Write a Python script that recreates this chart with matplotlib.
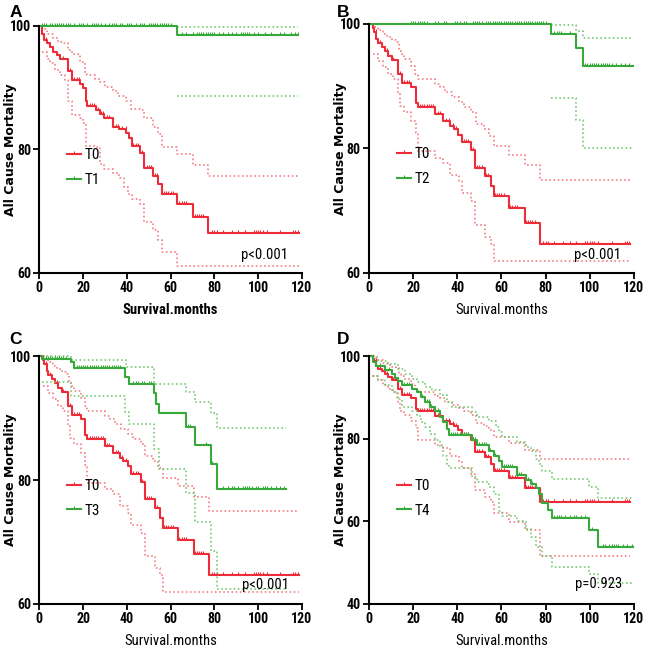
import matplotlib
matplotlib.use("Agg")
import matplotlib.pyplot as plt
import numpy as np
from matplotlib import font_manager
from matplotlib.lines import Line2D
from matplotlib.path import Path

RED = '#ee2c38'
RED_CI = '#f2767d'
GREEN = '#36a93a'
GREEN_CI = '#6cc669'

# ---- reference group T0 (panel A)
T0A_T = [0, 1.0, 2.3, 3.6, 4.9, 6.4, 7.9, 9.4, 12.9, 14.8, 18.6, 20.1, 21.3, 21.9, 25.7,
         27.7, 29.7, 33.8, 36.3, 39.8, 41.1, 42.3, 45.9, 47.8, 52.0, 54.3, 56.1, 63.0, 70.0, 77.1]
T0A_V = [100, 98.7, 97.7, 97.2, 96.5, 95.8, 95.3, 94.7, 92.7, 91.2, 90.6, 89.9, 87.9, 87.0, 86.4,
         85.8, 85.1, 83.7, 83.3, 82.6, 81.8, 80.6, 79.4, 77.0, 75.7, 74.4, 72.8, 71.1, 69.0, 66.4]
T0A_HI_T = [0, 1.1, 3.3, 6.4, 8.7, 11.0, 13.2, 14.8, 18.6, 20.8, 21.9, 25.4, 27.7, 30.0, 33.8,
            36.0, 39.8, 42.1, 45.9, 47.9, 52.0, 54.3, 56.1, 63.0, 70.0, 77.1]
T0A_HI_V = [100, 99.5, 98.7, 98.0, 97.4, 97.2, 96.0, 95.5, 94.1, 92.5, 92.0, 91.4, 90.9, 90.1, 89.4,
            88.7, 87.9, 86.6, 86.3, 85.0, 83.6, 82.5, 80.4, 79.2, 77.5, 75.7]
T0A_LO_T = [1.1, 3.3, 4.9, 7.1, 9.4, 11.7, 12.9, 14.8, 18.6, 20.1, 21.3, 25.7, 27.7, 29.7, 33.8,
            36.3, 38.6, 40.6, 42.3, 45.9, 47.8, 52.0, 54.3, 56.1, 63.0]
T0A_LO_V = [95.7, 94.7, 93.9, 92.8, 92.0, 91.2, 87.9, 85.5, 85.0, 84.2, 80.6, 80.4, 77.7, 76.9, 76.1,
            75.3, 73.9, 72.8, 72.0, 71.2, 68.2, 66.9, 65.3, 63.4, 61.1]
T0A_END = 118.5

# ---- reference group T0 (panels B, C, D)
T0_T = [0, 1.6, 2.3, 3.3, 4.1, 5.9, 7.1, 8.7, 10.2, 12.9, 15.0, 19.0, 21.1, 22.0, 29.9, 33.7,
        36.8, 38.3, 40.3, 42.1, 46.4, 48.2, 52.7, 55.3, 56.5, 63.4, 70.7, 77.5]
T0_V = [100, 99.3, 98.7, 97.6, 96.9, 96.3, 95.6, 94.9, 94.2, 92.0, 90.5, 89.8, 87.3, 86.6, 85.5, 84.4,
        83.6, 83.1, 82.2, 81.0, 79.7, 76.9, 75.5, 73.9, 72.3, 70.4, 68.0, 64.7]
T0_HI_T = [0, 1.5, 2.6, 4.1, 6.4, 7.9, 10.2, 12.0, 13.5, 14.4, 16.0, 19.0, 20.8, 22.0, 29.9, 32.2,
           34.5, 37.5, 40.6, 42.9, 46.4, 48.5, 52.0, 54.3, 56.5, 63.4, 70.7, 77.5]
T0_HI_V = [100, 100, 99.5, 99.0, 98.4, 97.9, 97.4, 97.1, 95.7, 95.2, 94.4, 93.3, 92.0, 91.2, 90.4, 89.8,
           89.0, 88.2, 87.4, 86.7, 85.8, 83.9, 83.1, 82.0, 80.4, 79.0, 77.3, 75.0]
T0_LO_T = [1.8, 4.1, 6.4, 8.7, 10.9, 12.9, 14.0, 16.0, 19.0, 21.1, 22.0, 29.9, 33.7, 36.8, 40.6,
           42.1, 46.4, 48.2, 52.7, 55.3, 56.5]
T0_LO_V = [95.2, 94.1, 93.0, 92.0, 91.2, 88.8, 86.8, 85.8, 84.4, 82.5, 79.6, 78.5, 77.7, 75.8, 74.7,
           72.8, 71.5, 67.7, 65.8, 64.7, 62.0]
# in panel D the lower band of T0 keeps falling after 56 months
T0_LO_D_T = [63.4, 70.7, 77.5]
T0_LO_D_V = [59.8, 57.8, 51.7]
T0_END = 118.5
T0_CENSOR = [3, 5, 8, 11, 14, 16, 17, 18, 23, 24, 25, 26, 27, 28, 29, 31, 32, 35, 36, 38, 39.5,
             43, 44, 45, 47, 49, 50, 51, 53, 54, 57, 58, 59, 60, 61, 64, 65, 66, 67, 71, 72, 73,
             74, 75, 79, 80, 81, 84, 88, 91, 94, 98, 99, 100, 101, 102, 104, 110, 116, 117, 118]

# ---- T1 (panel A)
T1_T = [0, 63.1]
T1_V = [100, 98.5]
T1_HI_T = [63.1]
T1_HI_V = [99.8]
T1_LO_T = [63.1]
T1_LO_V = [88.6]
T1_END = 118
T1_CENSOR = [1, 2, 3, 5, 6, 7, 8, 9, 10, 11, 12, 13, 14, 16, 18, 19, 20, 22, 24, 25, 26, 27, 28,
             30, 32, 33, 34, 35, 37, 38, 40, 41, 42, 44, 46, 47, 48, 50, 51, 52, 53, 54, 55, 56,
             57, 58, 59, 60, 65, 67, 70, 72, 73, 74, 75, 76, 77, 78, 79, 80, 82, 84, 86, 88, 90,
             92, 93, 94, 95, 96, 98, 100, 103, 106, 110, 112, 115, 117, 118]

# ---- T2 (panel B)
T2_T = [0, 82.3, 93.8, 96.8]
T2_V = [100, 98.3, 96.1, 93.3]
T2_HI_T = [82.3, 93.8, 96.8]
T2_HI_V = [99.8, 98.9, 97.8]
T2_LO_T = [82.3, 93.8, 96.8]
T2_LO_V = [88.1, 84.6, 80.0]
T2_END = 119.5
T2_CENSOR = [19, 20, 21, 22, 23, 24, 25, 26, 30, 31, 34, 35, 39, 40, 41, 43, 44, 47, 48, 49, 50,
             51, 53, 54, 55, 56, 57, 58, 59, 60, 61, 62, 63, 64, 65, 66, 67, 68, 69, 70, 71, 72,
             73, 74, 75, 76, 77, 78, 79, 80, 84, 85, 86, 87, 91, 97, 98, 99, 100, 101, 102, 103,
             104, 105, 106, 107, 108, 109, 110, 112, 114, 116, 118]

# ---- T3 (panel C)
T3_T = [0, 1.4, 14.5, 16.0, 39.0, 41.0, 52.3, 53.5, 54.5, 67.2, 71.0, 78.3, 81.4]
T3_V = [100, 99.6, 99.0, 98.1, 96.7, 95.5, 94.0, 92.3, 90.8, 88.6, 85.6, 82.6, 78.6]
T3_HI_T = [1.4, 14.5, 39.5, 52.3, 67.2, 71.0, 78.3, 81.4]
T3_HI_V = [100, 99.4, 98.2, 95.5, 94.2, 92.6, 90.8, 88.4]
T3_LO_T = [1.4, 14.5, 39.0, 41.0, 52.3, 54.5, 67.2, 71.0, 78.3, 81.4]
T3_LO_V = [95.8, 93.6, 91.0, 89.1, 85.0, 81.8, 77.9, 73.2, 68.5, 62.4]
T3_END = 112.5
T3_CENSOR = [3, 4, 5, 6, 7, 8, 9, 10, 11, 12, 17, 18, 19, 20, 21, 22, 23, 24, 25, 26, 27, 28, 29,
             30, 31, 32, 33, 34, 35, 36, 37, 43, 44, 45, 47, 48, 50, 51, 68, 69, 76, 79, 84, 86,
             88, 89, 91, 93, 94, 95, 96, 97, 99, 100, 102, 103, 104, 106, 108, 110, 112]

# ---- T4 (panel D)
T4_T = [0, 1.8, 3.3, 7.1, 10.2, 11.7, 13.2, 14.7, 19.3, 21.6, 23.4, 25.4, 27.7, 29.9, 32.2, 33.7,
        35.3, 36.3, 46.7, 49.0, 54.3, 56.5, 58.8, 60.3, 67.2, 71.0, 73.3, 75.5, 77.1, 78.6, 80.9,
        82.8, 99.8, 103.6]
T4_V = [100, 98.5, 97.5, 96.7, 95.7, 94.7, 93.9, 92.9, 92.1, 91.3, 90.1, 88.9, 87.6, 86.7, 85.2, 84.0,
        82.4, 81.0, 79.6, 78.4, 77.1, 75.9, 74.7, 73.1, 71.2, 70.1, 69.1, 68.1, 66.6, 64.5, 62.8,
        60.8, 57.8, 53.7]
T4_HI_T = [0, 1.1, 4.1, 8.7, 13.2, 16.3, 19.3, 21.6, 25.4, 28.4, 32.2, 35.3, 37.5, 46.7, 49.0, 54.3,
           57.3, 58.8, 60.3, 67.2, 71.0, 73.3, 75.5, 77.1, 78.6, 82.8, 99.8, 103.6]
T4_HI_V = [100, 99.8, 98.9, 98.1, 96.9, 95.7, 94.5, 93.7, 92.5, 91.7, 90.5, 88.9, 87.6, 86.4, 85.2,
           84.4, 82.8, 81.6, 80.4, 79.2, 78.1, 77.1, 75.1, 73.9, 72.3, 70.3, 68.3, 65.7]
T4_LO_T = [1.1, 4.1, 7.1, 10.2, 12.5, 14.7, 19.3, 21.6, 23.4, 25.4, 27.7, 29.9, 32.2, 33.7, 35.3,
           36.3, 46.7, 49.0, 54.3, 56.5, 58.8, 60.3, 67.2, 71.0, 73.3, 75.5, 78.6, 82.8, 99.8, 103.6]
T4_LO_V = [95.3, 94.1, 92.9, 91.3, 89.7, 87.6, 86.8, 85.6, 84.0, 82.8, 81.2, 79.6, 77.9, 75.9, 73.9,
           72.9, 70.7, 69.5, 68.3, 66.6, 62.6, 61.4, 60.2, 58.2, 56.1, 53.7, 51.7, 49.0, 47.3, 45.0]
T4_END = 119.6
T4_CENSOR = [5, 9, 16, 17, 18, 24, 26, 27, 28, 31, 37, 38, 39, 40, 41, 42, 43, 44, 45, 47, 48, 50,
             51, 52, 53, 55, 57, 59, 61, 62, 63, 64, 65, 68, 69, 72, 74, 84, 85, 86, 87, 89, 91,
             93, 94, 96, 98, 101, 106, 107, 109, 110, 111, 112, 113, 115, 117, 119]

X_TICKS = [0, 20, 40, 60, 80, 100, 120]

# upward tick used for censored observations
CENSOR_MARK = Path([(0, 0), (0, 1)])


def pick_narrow_font():
    # prefer a condensed face for the Prism-like labels, fall back to Liberation Sans
    fonts = font_manager.fontManager.ttflist
    for key in ['liberationsansnarrow', 'robotocondensed', 'dejavusanscondensed',
                'opensanscondensed', 'narrow', 'condensed']:
        for f in fonts:
            if key in f.fname.lower().replace('-', '').replace('_', ''):
                return f.name, f.stretch, 1.0
    return 'Liberation Sans', 'normal', 0.88


NARROW, STRETCH, SCALE = pick_narrow_font()
plt.rcParams['font.family'] = [NARROW, 'DejaVu Sans']
plt.rcParams['font.stretch'] = STRETCH

TICK_SIZE = 10 * SCALE
LABEL_SIZE = 10.5 * SCALE
LEGEND_SIZE = 11 * SCALE
P_SIZE = 10.5 * SCALE


def step_line(ax, times, values, end, color, lw, ls='-'):
    x = list(times) + [end]
    y = list(values) + [values[-1]]
    ax.step(x, y, where='post', color=color, lw=lw, ls=ls, clip_on=False)


def draw_group(ax, t, v, hi_t, hi_v, lo_t, lo_v, end, censor, color, ci_color):
    dots = (0, (1, 1.6))
    step_line(ax, hi_t, hi_v, end, ci_color, 1.15, dots)
    step_line(ax, lo_t, lo_v, end, ci_color, 1.15, dots)
    step_line(ax, t, v, end, color, 1.5)
    idx = np.searchsorted(t, censor, side='right') - 1
    ax.plot(censor, np.array(v)[idx], ls='none', marker=CENSOR_MARK, ms=4,
            mew=0.8, color=color, clip_on=False)


def style_axes(ax, y_ticks, bold_x):
    for side in ['top', 'right']:
        ax.spines[side].set_visible(False)
    for side in ['left', 'bottom']:
        ax.spines[side].set_linewidth(1.5)
    ax.set_xlim(0, 120)
    ax.set_ylim(y_ticks[0], y_ticks[-1])
    ax.set_xticks(X_TICKS)
    ax.set_yticks(y_ticks)
    ax.tick_params(direction='out', length=4, width=1.3, labelsize=TICK_SIZE, pad=2)
    for lab in ax.get_xticklabels() + ax.get_yticklabels():
        lab.set_fontweight('bold')
    ax.set_xlabel('Survival.months', fontsize=LABEL_SIZE,
                  fontweight='bold' if bold_x else 'normal')
    ax.xaxis.set_label_coords(0.5, -0.12)
    ax.set_ylabel('All Cause Mortality', fontsize=9, fontweight='bold',
                  family='DejaVu Sans', stretch='normal')
    ax.yaxis.set_label_coords(-0.085, 0.5)


def add_legend(ax, label):
    handles = [
        Line2D([], [], color=RED, lw=1.5, marker=CENSOR_MARK, ms=4, mew=0.8),
        Line2D([], [], color=GREEN, lw=1.5, marker=CENSOR_MARK, ms=4, mew=0.8),
    ]
    ax.legend(handles, ['T0', label], loc='upper left', bbox_to_anchor=(0.105, 0.504),
              frameon=False, fontsize=LEGEND_SIZE, handlelength=0.9, handletextpad=0.25,
              labelspacing=0.7, borderpad=0, borderaxespad=0)


fig = plt.figure(figsize=(6.5, 6.54), dpi=100)
axA = fig.add_axes([0.0605, 0.5826, 0.404, 0.378])
axB = fig.add_axes([0.568, 0.5826, 0.407, 0.381])
axC = fig.add_axes([0.0605, 0.0765, 0.404, 0.379])
axD = fig.add_axes([0.568, 0.0765, 0.407, 0.379])

# A
draw_group(axA, T0A_T, T0A_V, T0A_HI_T, T0A_HI_V, T0A_LO_T, T0A_LO_V, T0A_END,
           T0_CENSOR, RED, RED_CI)
draw_group(axA, T1_T, T1_V, T1_HI_T, T1_HI_V, T1_LO_T, T1_LO_V, T1_END,
           T1_CENSOR, GREEN, GREEN_CI)
style_axes(axA, [60, 80, 100], True)
add_legend(axA, 'T1')
axA.text(92.3, 62.9, 'p<0.001', fontsize=P_SIZE, va='center')

# B
draw_group(axB, T0_T, T0_V, T0_HI_T, T0_HI_V, T0_LO_T, T0_LO_V, T0_END,
           T0_CENSOR, RED, RED_CI)
draw_group(axB, T2_T, T2_V, T2_HI_T, T2_HI_V, T2_LO_T, T2_LO_V, T2_END,
           T2_CENSOR, GREEN, GREEN_CI)
style_axes(axB, [60, 80, 100], False)
add_legend(axB, 'T2')
axB.text(93.0, 62.9, 'p<0.001', fontsize=P_SIZE, va='center')

# C
draw_group(axC, T0_T, T0_V, T0_HI_T, T0_HI_V, T0_LO_T, T0_LO_V, T0_END,
           T0_CENSOR, RED, RED_CI)
draw_group(axC, T3_T, T3_V, T3_HI_T, T3_HI_V, T3_LO_T, T3_LO_V, T3_END,
           T3_CENSOR, GREEN, GREEN_CI)
style_axes(axC, [60, 80, 100], False)
add_legend(axC, 'T3')
axC.text(92.8, 63.0, 'p<0.001', fontsize=P_SIZE, va='center')

# D
draw_group(axD, T0_T, T0_V, T0_HI_T, T0_HI_V, T0_LO_T + T0_LO_D_T, T0_LO_V + T0_LO_D_V,
           T0_END, T0_CENSOR, RED, RED_CI)
draw_group(axD, T4_T, T4_V, T4_HI_T, T4_HI_V, T4_LO_T, T4_LO_V, T4_END,
           T4_CENSOR, GREEN, GREEN_CI)
style_axes(axD, [40, 60, 80, 100], False)
add_legend(axD, 'T4')
axD.text(93.5, 44.8, 'p=0.923', fontsize=P_SIZE, va='center')

for letter, x, y in [('A', 0.014, 0.974), ('B', 0.518, 0.974),
                     ('C', 0.014, 0.474), ('D', 0.518, 0.474)]:
    fig.text(x, y, letter, fontsize=12.5, fontweight='bold', family='Liberation Sans',
             stretch='normal')

fig.savefig('out.png', dpi=100)
